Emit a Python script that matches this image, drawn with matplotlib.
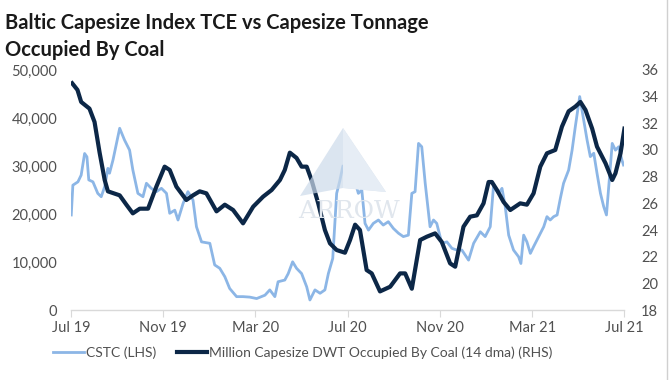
import matplotlib
matplotlib.use("Agg")
import matplotlib.pyplot as plt
from matplotlib.patches import Polygon
from matplotlib.lines import Line2D

plt.rcParams['font.family'] = ['Lato', 'DejaVu Sans']

# x positions are months since Jul 2019
coal_months = [0.05, 0.28, 0.44, 0.80, 1.02, 1.24, 1.46, 1.60, 2.11, 2.40, 2.68, 2.98, 3.34,
               3.70, 4.06, 4.28, 4.57, 5.00, 5.29, 5.58, 5.87, 6.31, 6.67, 7.03, 7.46, 7.90,
               8.33, 8.70, 9.06, 9.27, 9.49, 9.78, 10.00, 10.22, 10.43, 10.72, 11.01, 11.23,
               11.52, 11.88, 12.10, 12.32, 12.53, 12.82, 13.04, 13.40, 13.84, 14.27, 14.49,
               14.78, 15.14, 15.43, 15.79, 16.08, 16.44, 16.66, 17.02, 17.31, 17.60, 17.89,
               18.11, 18.25, 18.47, 18.76, 19.05, 19.48, 19.77, 20.06, 20.35, 20.64, 21.00,
               21.29, 21.58, 21.87, 22.09, 22.31, 22.60, 22.81, 23.18, 23.47, 23.61, 23.83, 24.00]
coal_dwt = [35.0, 34.5, 33.6, 33.1, 32.1, 29.8, 27.75, 26.9, 26.6, 25.9, 25.25, 25.6, 25.6,
            27.25, 28.75, 28.5, 27.25, 26.25, 26.6, 26.9, 26.75, 25.4, 25.9, 25.5, 24.5, 25.75,
            26.5, 27.0, 27.75, 28.5, 29.8, 29.4, 28.75, 28.75, 27.75, 26.0, 24.0, 23.0,
            22.5, 22.3, 23.25, 24.4, 24.0, 21.0, 20.75, 19.4, 19.75, 20.75, 20.75,
            19.6, 23.25, 23.5, 23.75, 23.1, 21.5, 21.25, 24.25, 25.0, 25.1, 26.0,
            27.6, 27.6, 27.0, 26.1, 25.5, 26.0, 25.9, 26.75, 28.75, 29.75, 30.0,
            31.75, 32.9, 33.25, 33.6, 33.0, 31.6, 30.25, 29.0, 27.75, 28.25, 29.75, 31.6]

cstc_months = [0.01, 0.08, 0.30, 0.44, 0.59, 0.69, 0.77, 0.95, 1.16, 1.31, 1.46, 1.60, 1.67,
               1.82, 2.11, 2.32, 2.54, 2.68, 2.90, 3.12, 3.27, 3.48, 3.70, 3.92, 4.14, 4.28,
               4.50, 4.64, 4.86, 5.07, 5.29, 5.44, 5.66, 6.02, 6.23, 6.45, 6.67, 6.88, 7.18,
               7.46, 7.75, 8.05, 8.41, 8.62, 8.84, 8.98, 9.27, 9.42, 9.61, 9.78, 10.00, 10.22,
               10.36, 10.58, 10.80, 11.01, 11.16, 11.35, 11.52, 11.66, 11.79, 11.95, 12.10,
               12.24, 12.46, 12.61, 12.75, 12.90, 13.11, 13.33, 13.54, 13.76, 13.98, 14.20,
               14.41, 14.63, 14.78, 14.92, 15.07, 15.21, 15.36, 15.57, 15.72, 15.86, 16.08,
               16.30, 16.52, 16.73, 16.95, 17.24, 17.46, 17.75, 17.96, 18.18, 18.32, 18.54,
               18.69, 18.83, 18.98, 19.19, 19.41, 19.51, 19.63, 19.77, 19.92, 20.06, 20.28,
               20.50, 20.64, 20.78, 20.93, 21.08, 21.22, 21.36, 21.58, 21.73, 21.87, 22.06,
               22.23, 22.38, 22.52, 22.67, 22.81, 22.96, 23.10, 23.22, 23.32, 23.47, 23.61,
               23.75, 23.89, 23.96]
cstc_values = [19800, 26000, 26700, 28100, 32600, 31900, 27100, 26700, 24300, 23600, 25700, 29500, 28500,
               31250, 37850, 35400, 33300, 29200, 24300, 23600, 26400, 25350, 24650, 25350, 24300, 20150,
               20800, 18750, 22200, 24650, 22900, 17350, 14200, 13900, 9400, 8700, 6950, 4500, 2800,
               2800, 2700, 2400, 3100, 4200, 2800, 5900, 6250, 7600, 10050, 8700, 7600, 4850,
               2100, 4200, 3500, 4200, 7600, 10750, 24300, 27000, 30000, 29000, 33700,
               28100, 24300, 25000, 18050, 16650, 18050, 18750, 17700, 18400, 17000, 16000,
               15300, 15600, 24300, 24650, 34700, 34000, 26400, 17350, 18750, 18050, 13900,
               14200, 12850, 12500, 12500, 10400, 13900, 16300, 15300, 17350, 25700, 24300,
               25350, 21550, 15600, 12500, 11100, 9700, 15600, 14200, 11800, 13200, 15300,
               17350, 19450, 18750, 19450, 19800, 23250, 26400, 29150, 33300, 38200, 44450,
               39600, 35400, 31950, 32650, 28500, 24300, 21550, 19800, 25700, 34700, 33300,
               34000, 31250, 30200]

tick_months = [0, 4, 8, 12, 16, 20, 24]
tick_labels = ["Jul 19", "Nov 19", "Mar 20", "Jul 20", "Nov 20", "Mar 21", "Jul 21"]
left_ticks = [0, 10000, 20000, 30000, 40000, 50000]
right_ticks = [18, 20, 22, 24, 26, 28, 30, 32, 34, 36]

LIGHT = "#8cb6e6"
DARK = "#0c2747"
GRAY = "#505050"

fig = plt.figure(figsize=(6.7, 3.8), dpi=100)
ax = fig.add_axes([0.106, 0.184, 0.826, 0.632])
ax2 = ax.twinx()


def fx(px):
    return px / 670


def fy(py):
    return 1 - py / 380


# faint watermark logo
wm = Polygon([[fx(300), fy(196)], [fx(343), fy(128)], [fx(386), fy(192)], [fx(343), fy(188)]],
             closed=True, transform=fig.transFigure, facecolor="#ccdaea", edgecolor="none",
             alpha=0.7, zorder=0)
fig.patches.append(wm)
wm2 = Polygon([[fx(343), fy(128)], [fx(386), fy(192)], [fx(343), fy(188)]], closed=True,
              transform=fig.transFigure, facecolor="#e6edf5", edgecolor="none", zorder=0)
fig.patches.append(wm2)
fig.text(fx(349), fy(212), "ARROW", ha="center", va="center", fontsize=18,
         family="DejaVu Serif", color="#e0e6ed", zorder=0)

l1, = ax.plot(cstc_months, cstc_values, color=LIGHT, lw=2.0, zorder=3, label="CSTC (LHS)")
l2, = ax2.plot(coal_months, coal_dwt, color=DARK, lw=3.0, zorder=4,
               label="Million Capesize DWT Occupied By Coal (14 dma) (RHS)")

ax.set_xlim(0, 24)
ax.set_ylim(0, 50000)
ax2.set_ylim(18, 36)
ax.set_xticks(tick_months)
ax.set_xticklabels(tick_labels)
ax.set_yticks(left_ticks)
ax.set_yticklabels([f"{v:,}" for v in left_ticks])
ax2.set_yticks(right_ticks)

for a in (ax, ax2):
    for s in a.spines.values():
        s.set_visible(False)
    a.patch.set_visible(False)
ax.spines['bottom'].set_visible(True)
ax.spines['bottom'].set_color("#d9d9d9")
ax.spines['bottom'].set_linewidth(1.0)

ax.tick_params(axis='x', colors="#d9d9d9", labelcolor=GRAY, labelsize=10.5, length=5,
               direction='out', pad=3)
ax.tick_params(axis='y', length=0, labelcolor=GRAY, labelsize=10.5, pad=10)
ax2.tick_params(axis='y', length=0, labelcolor=GRAY, labelsize=10.5, pad=12)
ax.set_zorder(ax2.get_zorder() - 1)
ax2.patch.set_visible(False)

fig.text(0.008, 0.965, "Baltic Capesize Index TCE vs Capesize Tonnage\nOccupied By Coal",
         ha="left", va="top", fontsize=14.5, fontweight="bold", color="#1a1a1a",
         linespacing=1.45)

fig.legend(handles=[l1, l2], loc="center", bbox_to_anchor=(0.452, 0.073), ncol=2,
           frameon=False, fontsize=10, labelcolor=GRAY, handlelength=2.2,
           handletextpad=0.15, columnspacing=1.5)

fig.add_artist(Line2D([fx(667), fx(667)], [0, 1], transform=fig.transFigure,
                      color="#d0d0d0", lw=1.0))

fig.savefig("out.png", dpi=100, facecolor="white")
